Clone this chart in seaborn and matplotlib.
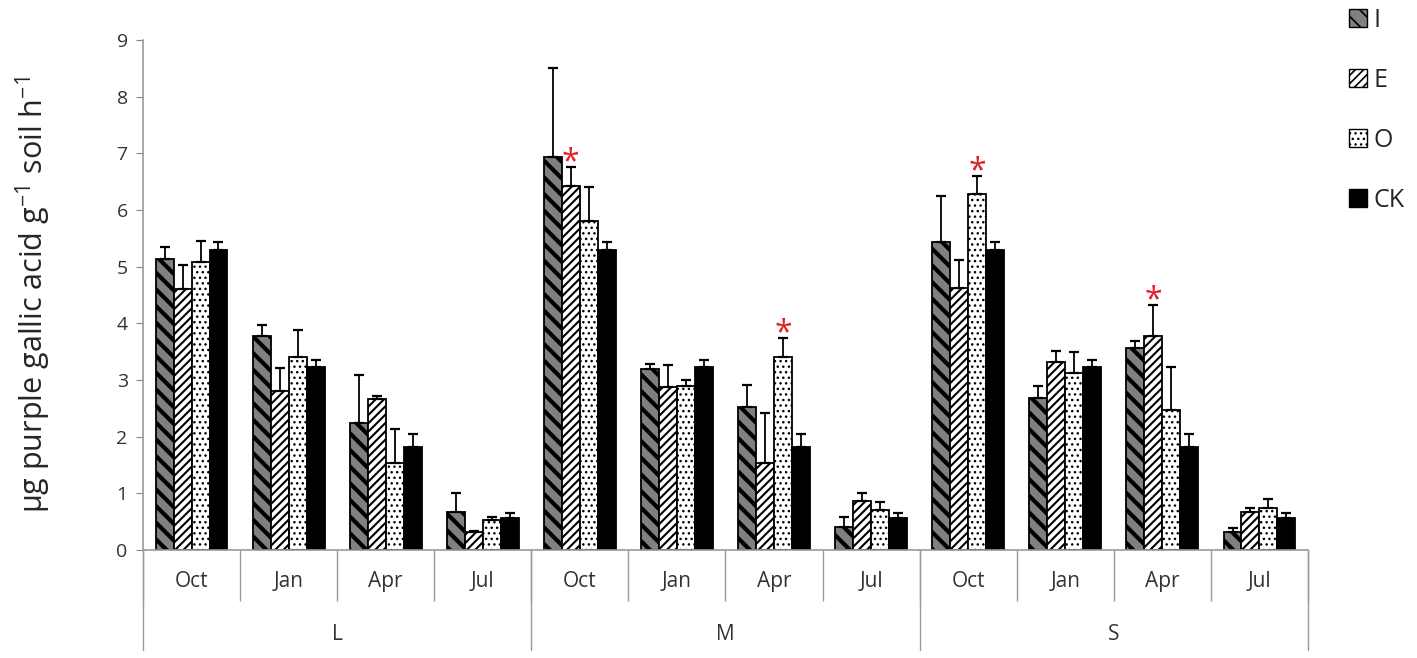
import numpy as np
import pandas as pd
import matplotlib
matplotlib.use("Agg")
import matplotlib.pyplot as plt
import seaborn as sns
from matplotlib.patches import Patch
import matplotlib.transforms as mtransforms

sites = ["L", "M", "S"]
months = ["Oct", "Jan", "Apr", "Jul"]
treatments = ["I", "E", "O", "CK"]

# means, site-major (L Oct..Jul, M Oct..Jul, S Oct..Jul)
mean_I = [5.14, 3.77, 2.25, 0.67, 6.94, 3.20, 2.53, 0.41, 5.43, 2.69, 3.57, 0.31]
mean_E = [4.60, 2.81, 2.66, 0.32, 6.42, 2.87, 1.53, 0.87, 4.63, 3.32, 3.77, 0.67]
mean_O = [5.08, 3.41, 1.53, 0.53, 5.80, 2.89, 3.40, 0.71, 6.28, 3.12, 2.47, 0.75]
mean_CK = [5.29, 3.23, 1.82, 0.56, 5.29, 3.23, 1.82, 0.56, 5.29, 3.23, 1.82, 0.56]

# upper error bars
sd_I = [0.21, 0.20, 0.84, 0.34, 1.56, 0.08, 0.39, 0.18, 0.82, 0.20, 0.12, 0.07]
sd_E = [0.43, 0.41, 0.06, 0.02, 0.34, 0.39, 0.88, 0.14, 0.48, 0.20, 0.55, 0.08]
sd_O = [0.37, 0.48, 0.60, 0.06, 0.61, 0.11, 0.34, 0.13, 0.32, 0.38, 0.76, 0.15]
sd_CK = [0.14, 0.12, 0.23, 0.09, 0.14, 0.12, 0.23, 0.09, 0.14, 0.12, 0.23, 0.09]

# significant differences (treatment, group index)
stars = [("E", 4), ("O", 6), ("O", 8), ("E", 10)]

means = {"I": mean_I, "E": mean_E, "O": mean_O, "CK": mean_CK}
sds = {"I": sd_I, "E": sd_E, "O": sd_O, "CK": sd_CK}

groups = [f"{s}-{m}" for s in sites for m in months]
rows = []
for t in treatments:
    for i, g in enumerate(groups):
        rows.append({"group": g, "treatment": t, "value": means[t][i], "sd": sds[t][i]})
df = pd.DataFrame(rows)

sns.set_style("white")
plt.rcParams["font.family"] = ["Open Sans", "DejaVu Sans"]
plt.rcParams["mathtext.fontset"] = "custom"
plt.rcParams["mathtext.rm"] = "Open Sans"
plt.rcParams["mathtext.default"] = "regular"

fills = {"I": "#808080", "E": "white", "O": "white", "CK": "black"}
hatches = {"I": "\\\\", "E": "////", "O": "...", "CK": ""}
hatch_lw = {"I": 3.0, "E": 1.5, "O": 1.0, "CK": 1.0}

fig = plt.figure(figsize=(14.17, 6.58), dpi=100)
ax = fig.add_axes([143 / 1417, 1 - 550 / 658, (1308 - 143) / 1417, 510 / 658])

sns.barplot(data=df, x="group", y="value", hue="treatment", order=groups,
            hue_order=treatments, palette=fills, errorbar=None, width=0.74,
            edgecolor="black", linewidth=1.3, legend=False, ax=ax)

for t, cont in zip(treatments, ax.containers):
    xs, ys = [], []
    for bar in cont:
        bar.set_hatch(hatches[t])
        bar.set_edgecolor("black")
        if hasattr(bar, "set_hatch_linewidth"):
            bar.set_hatch_linewidth(hatch_lw[t])
        xs.append(bar.get_x() + bar.get_width() / 2)
        ys.append(bar.get_height())
    err = np.array(sds[t])
    ax.errorbar(xs, ys, yerr=[np.zeros_like(err), err], fmt="none", ecolor="black",
                elinewidth=1.3, capsize=3.8, capthick=1.6, zorder=3)
    for st, gi in stars:
        if st == t:
            ax.annotate("*", xy=(xs[gi], ys[gi] + err[gi]), xytext=(0, -3),
                        textcoords="offset points", ha="center", va="baseline",
                        color="#e0202a", fontsize=23)

ax.set_xlim(-0.5, len(groups) - 0.5)
ax.set_ylim(0, 9)
ax.set_yticks(range(0, 10))
ax.tick_params(axis="y", length=5, color="#888888", labelsize=14, labelcolor="#333333", pad=6, left=True)

ax.set_xticks(range(len(groups)))
ax.set_xticklabels(months * len(sites))
ax.tick_params(axis="x", which="major", length=0, pad=15, labelsize=15, labelcolor="#333333")
ax.set_xticks(np.arange(-0.5, len(groups)), minor=True)
ax.tick_params(axis="x", which="minor", length=37, width=1, color="#999999", bottom=True)
ax.set_xlabel("")
ax.set_ylabel(r"µg purple gallic acid g$^{-1}$ soil h$^{-1}$", fontsize=22)
ax.yaxis.set_label_coords(-0.077, 0.5)

trans = mtransforms.blended_transform_factory(ax.transData, ax.transAxes)
for k in range(len(sites) + 1):
    xb = k * len(months) - 0.5
    ax.plot([xb, xb], [0, -100 / 510], color="#999999", lw=1, transform=trans, clip_on=False)
for k, s in enumerate(sites):
    ax.text(k * len(months) + 1.5, -85 / 510, s, transform=trans, ha="center", va="center",
            fontsize=15, color="#333333")

for side in ["top", "right"]:
    ax.spines[side].set_visible(False)
for side in ["left", "bottom"]:
    ax.spines[side].set_color("#999999")
    ax.spines[side].set_linewidth(1.2)

handles = []
for t in treatments:
    p = Patch(facecolor=fills[t], edgecolor="black", hatch=hatches[t], label=t)
    handles.append(p)
leg = fig.legend(handles=handles, loc="upper left", bbox_to_anchor=(1349 / 1417, 1 - 8 / 658),
                 frameon=False, fontsize=18, handlelength=0.72, handleheight=0.72,
                 labelspacing=1.4, handletextpad=0.25, borderpad=0, borderaxespad=0)
for h, t in zip(leg.legend_handles, treatments):
    if hasattr(h, "set_hatch_linewidth"):
        h.set_hatch_linewidth(min(hatch_lw[t], 1.2))

fig.savefig("out.png", dpi=100)
